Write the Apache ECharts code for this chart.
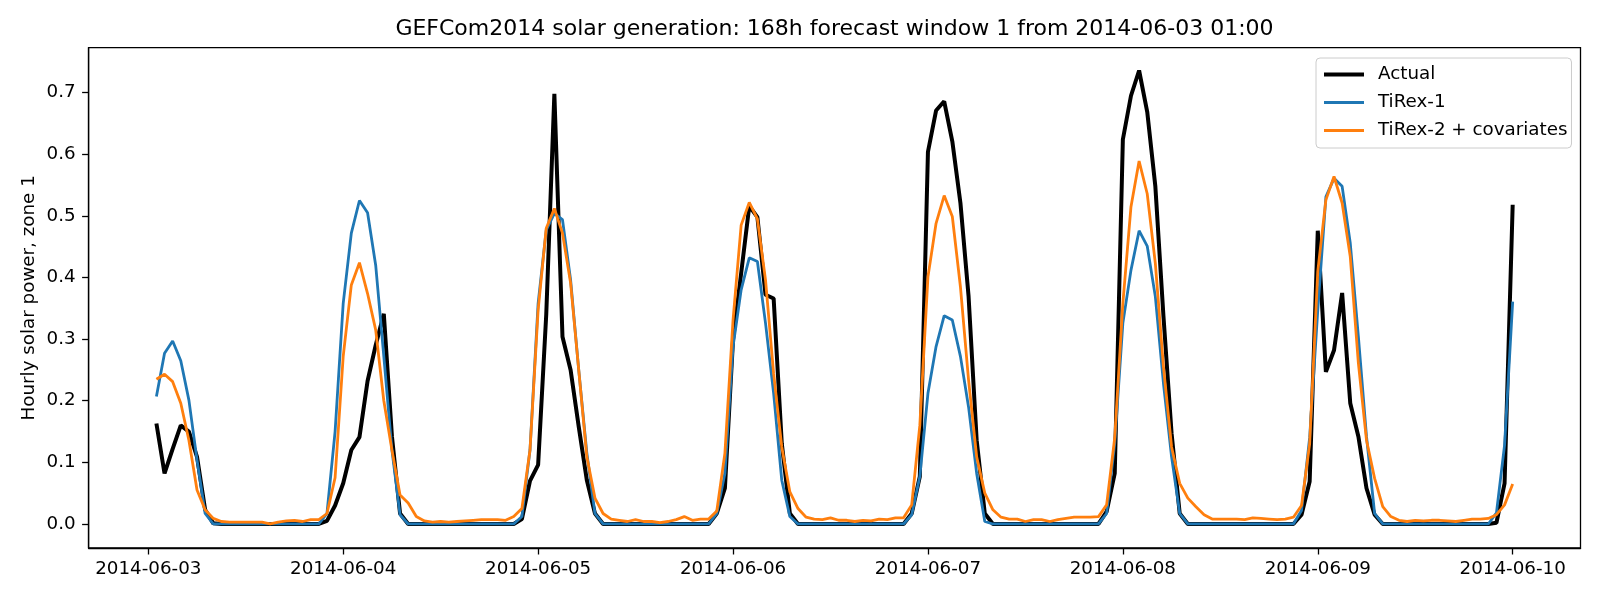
<!DOCTYPE html>
<html>
<head>
<meta charset="utf-8">
<script src="https://cdn.jsdelivr.net/npm/echarts@6/dist/echarts.min.js"></script>
<style>
html,body{margin:0;padding:0;background:#ffffff;}
#chart{width:1600px;height:600px;}
</style>
</head>
<body>
<div id="chart"></div>
<script>
// Hours are counted from 2014-06-03 00:00; first point is 01:00, last 2014-06-10 00:00
const firstHour = 1;
const dayTickHours = [0, 24, 48, 72, 96, 120, 144, 168];
const dayTickLabels = ['2014-06-03', '2014-06-04', '2014-06-05', '2014-06-06', '2014-06-07', '2014-06-08', '2014-06-09', '2014-06-10'];
const yTickValues = [0.0, 0.1, 0.2, 0.3, 0.4, 0.5, 0.6, 0.7];
const yTickLabels = ['0.0', '0.1', '0.2', '0.3', '0.4', '0.5', '0.6', '0.7'];

const actual = [
  0.163, 0.082, 0.122, 0.160, 0.150, 0.109, 0.023, 0.001,
  0, 0, 0, 0, 0, 0, 0, 0, 0, 0, 0, 0, 0,
  0.005, 0.030, 0.066, 0.120, 0.141, 0.232, 0.290, 0.341, 0.142, 0.017,
  0, 0, 0, 0, 0, 0, 0, 0, 0, 0, 0, 0, 0, 0,
  0.008, 0.070, 0.096, 0.340, 0.698, 0.304, 0.250, 0.158, 0.071, 0.017,
  0, 0, 0, 0, 0, 0, 0, 0, 0, 0, 0, 0, 0, 0,
  0.017, 0.058, 0.299, 0.407, 0.516, 0.498, 0.372, 0.366, 0.131, 0.017,
  0, 0, 0, 0, 0, 0, 0, 0, 0, 0, 0, 0, 0, 0,
  0.017, 0.077, 0.604, 0.671, 0.686, 0.621, 0.521, 0.370, 0.136, 0.017,
  0, 0, 0, 0, 0, 0, 0, 0, 0, 0, 0, 0, 0, 0,
  0.020, 0.082, 0.624, 0.695, 0.736, 0.669, 0.548, 0.337, 0.147, 0.017,
  0, 0, 0, 0, 0, 0, 0, 0, 0, 0, 0, 0, 0, 0,
  0.015, 0.069, 0.476, 0.247, 0.282, 0.375, 0.196, 0.142, 0.058, 0.015,
  0, 0, 0, 0, 0, 0, 0, 0, 0, 0, 0, 0, 0, 0,
  0.002, 0.066, 0.518
];

const tirex1 = [
  0.207, 0.277, 0.297, 0.265, 0.201, 0.104, 0.017, 0,
  0, 0, 0, 0, 0, 0, 0, 0, 0, 0, 0, 0, 0,
  0.017, 0.150, 0.358, 0.472, 0.525, 0.505, 0.420, 0.272, 0.120, 0.015,
  0, 0, 0, 0, 0, 0, 0, 0, 0, 0, 0, 0, 0, 0,
  0.012, 0.120, 0.358, 0.477, 0.504, 0.494, 0.396, 0.250, 0.115, 0.017,
  0, 0, 0, 0, 0, 0, 0, 0, 0, 0, 0, 0, 0, 0,
  0.017, 0.082, 0.288, 0.380, 0.432, 0.426, 0.326, 0.212, 0.071, 0.012,
  0, 0, 0, 0, 0, 0, 0, 0, 0, 0, 0, 0, 0, 0,
  0.015, 0.077, 0.212, 0.288, 0.338, 0.331, 0.272, 0.190, 0.082, 0.004,
  0, 0, 0, 0, 0, 0, 0, 0, 0, 0, 0, 0, 0, 0,
  0.017, 0.131, 0.326, 0.412, 0.476, 0.451, 0.369, 0.228, 0.109, 0.017,
  0, 0, 0, 0, 0, 0, 0, 0, 0, 0, 0, 0, 0, 0,
  0.022, 0.140, 0.347, 0.531, 0.561, 0.548, 0.456, 0.304, 0.142, 0.017,
  0, 0, 0, 0, 0, 0, 0, 0, 0, 0, 0, 0, 0, 0,
  0.018, 0.128, 0.361
];

const tirex2cov = [
  0.235, 0.243, 0.231, 0.196, 0.136, 0.055, 0.023, 0.009,
  0.004, 0.003, 0.003, 0.003, 0.003, 0.003, 0.000, 0.003, 0.005, 0.006, 0.004, 0.007, 0.007,
  0.017, 0.075, 0.272, 0.388, 0.424, 0.374, 0.315, 0.200, 0.120, 0.047,
  0.034, 0.012, 0.005, 0.003, 0.004, 0.003, 0.004, 0.005, 0.006, 0.007, 0.007, 0.007, 0.006, 0.012,
  0.025, 0.120, 0.347, 0.480, 0.512, 0.472, 0.391, 0.250, 0.109, 0.042,
  0.017, 0.008, 0.006, 0.004, 0.007, 0.004, 0.004, 0.002, 0.004, 0.007, 0.012, 0.006, 0.008, 0.008,
  0.021, 0.115, 0.331, 0.485, 0.522, 0.495, 0.396, 0.244, 0.125, 0.052,
  0.025, 0.011, 0.008, 0.007, 0.010, 0.006, 0.006, 0.004, 0.006, 0.005, 0.008, 0.007, 0.010, 0.010,
  0.031, 0.160, 0.401, 0.488, 0.533, 0.499, 0.385, 0.234, 0.109, 0.050,
  0.023, 0.011, 0.008, 0.008, 0.004, 0.007, 0.007, 0.004, 0.007, 0.009, 0.011, 0.011, 0.011, 0.012,
  0.031, 0.140, 0.358, 0.515, 0.589, 0.536, 0.423, 0.255, 0.125, 0.066,
  0.042, 0.028, 0.015, 0.008, 0.008, 0.008, 0.008, 0.007, 0.010, 0.009, 0.008, 0.007, 0.008, 0.011,
  0.030, 0.130, 0.410, 0.526, 0.564, 0.521, 0.434, 0.261, 0.136, 0.074,
  0.028, 0.012, 0.006, 0.004, 0.006, 0.005, 0.006, 0.006, 0.005, 0.004, 0.006, 0.008, 0.008, 0.009,
  0.015, 0.031, 0.065
];

const seriesNames = ['Actual', 'TiRex-1', 'TiRex-2 + covariates'];
const seriesColors = ['#000000', '#1f77b4', '#ff7f0e'];
const seriesWidths = [4.0, 2.8, 2.8];
const seriesValues = [actual, tirex1, tirex2cov];

const FONT = 'DejaVu Sans';
const chart = echarts.init(document.getElementById('chart'), null, {renderer: 'canvas'});

const series = seriesValues.map((vals, k) => ({
  name: seriesNames[k],
  type: 'line',
  data: vals.map((v, i) => [firstHour + i, v]),
  symbol: 'none',
  showSymbol: false,
  color: seriesColors[k],
  lineStyle: {color: seriesColors[k], width: seriesWidths[k]},
  itemStyle: {color: seriesColors[k]},
  emphasis: {disabled: true},
  animation: false,
  z: 2 + k
}));

chart.setOption({
  animation: false,
  backgroundColor: '#ffffff',
  textStyle: {fontFamily: FONT},
  title: {
    text: 'GEFCom2014 solar generation: 168h forecast window 1 from 2014-06-03 01:00',
    left: 834.5,
    top: 18,
    padding: 0,
    textAlign: 'center',
    textStyle: {fontFamily: FONT, fontSize: 22, fontWeight: 'normal', color: '#000000'}
  },
  legend: {
    orient: 'vertical',
    left: 1316,
    top: 58,
    padding: [7, 4, 8, 6],
    itemWidth: 40,
    itemHeight: 14,
    itemGap: 9,
    backgroundColor: 'rgba(255,255,255,0.8)',
    borderColor: '#cccccc',
    borderWidth: 1,
    borderRadius: 4,
    selectedMode: false,
    itemStyle: {opacity: 0, borderWidth: 0},
    textStyle: {fontFamily: FONT, fontSize: 18.3, color: '#000000', lineHeight: 19, padding: [0, 0, 0, 9]},
    data: seriesNames.map((n, k) => ({name: n, lineStyle: {width: seriesWidths[k], color: seriesColors[k]}}))
  },
  grid: {
    left: 88.6,
    right: 19.5,
    top: 47.7,
    bottom: 52,
    show: true,
    borderColor: '#000000',
    borderWidth: 1.3,
    backgroundColor: 'transparent'
  },
  xAxis: {
    type: 'value',
    min: firstHour - 0.05 * (actual.length - 1),
    max: firstHour + actual.length - 1 + 0.05 * (actual.length - 1),
    splitLine: {show: false},
    axisLine: {show: true, onZero: false, lineStyle: {color: '#000000', width: 1.3}},
    axisTick: {show: true, length: 6.5, inside: false, customValues: dayTickHours, lineStyle: {color: '#000000', width: 1.3}},
    axisLabel: {
      customValues: dayTickHours,
      formatter: v => dayTickLabels[dayTickHours.indexOf(v)],
      margin: 12.5,
      fontFamily: FONT, fontSize: 18.3, color: '#000000'
    }
  },
  yAxis: {
    type: 'value',
    min: -0.039,
    max: 0.773,
    name: 'Hourly solar power, zone 1',
    nameLocation: 'middle',
    nameGap: 50,
    nameMoveOverlap: false,
    nameTextStyle: {fontFamily: FONT, fontSize: 18.3, color: '#000000'},
    splitLine: {show: false},
    axisLine: {show: true, onZero: false, lineStyle: {color: '#000000', width: 1.3}},
    axisTick: {show: true, length: 6.5, inside: false, customValues: yTickValues, lineStyle: {color: '#000000', width: 1.3}},
    axisLabel: {
      customValues: yTickValues,
      formatter: v => yTickLabels[yTickValues.findIndex(t => Math.abs(t - v) < 1e-9)],
      margin: 13,
      fontFamily: FONT, fontSize: 18.3, color: '#000000'
    }
  },
  series: series
});
</script>
</body>
</html>
